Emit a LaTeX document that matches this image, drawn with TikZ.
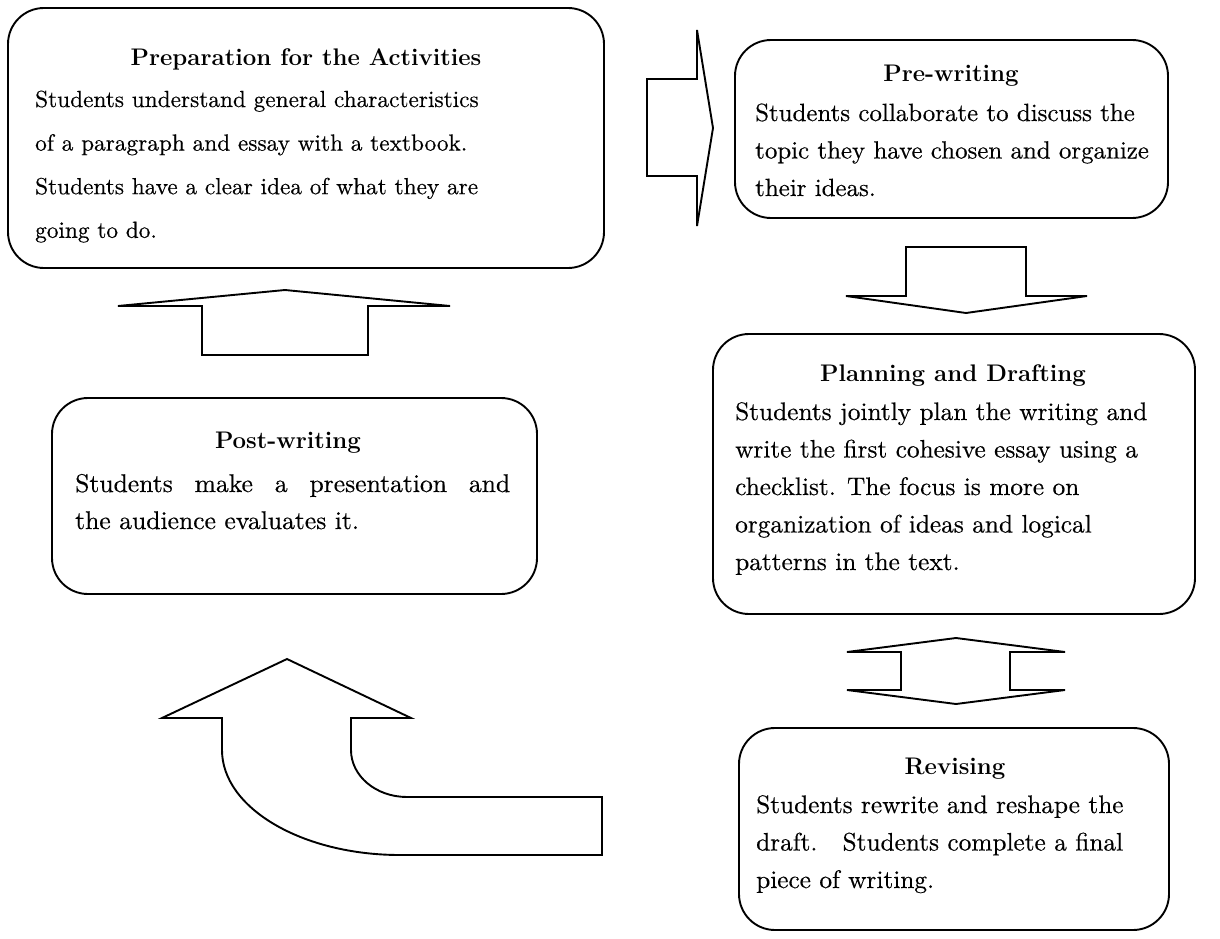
\documentclass[tikz,border=0pt]{standalone}
\usepackage{fontspec}
\newfontfamily\bodyrm{lmroman10-regular.otf}[FakeBold=0.4]
\newcommand\bodyprep{\bodyrm\fontsize{23.3}{43.6}\selectfont}
\newcommand\bodyright{\bodyrm\fontsize{25.3}{37.5}\selectfont}
\newcommand\bodypre{\bodyrm\fontsize{24.9}{37.5}\selectfont}
\newcommand\bodypost{\bodyrm\fontsize{25.6}{37}\selectfont}
\begin{document}
\begin{tikzpicture}[x=1pt,y=-1pt,
  box/.style={draw, line width=1.9pt, rounded corners=36pt, inner sep=0pt},
  ttl/.style={font=\fontsize{24}{28}\selectfont\bfseries, anchor=base, inner sep=0pt},
  body/.style={anchor=base west, inner sep=0pt, align=left},
  barrow/.style={draw, line width=1.9pt, line join=miter}]
\useasboundingbox (0,0) rectangle (1220,939);

% boxes
\node[box, minimum width=596pt, minimum height=260pt] (prep) at (306,138) {};
\node[box, minimum width=433pt, minimum height=178pt] (pre) at (951.5,129) {};
\node[box, minimum width=482pt, minimum height=280pt] (plan) at (954,474) {};
\node[box, minimum width=430pt, minimum height=202pt] (rev) at (954,829) {};
\node[box, minimum width=485pt, minimum height=196pt] (post) at (294.5,496) {};

% titles
\node[ttl] (prepH) at (306,66) {Preparation for the Activities};
\node[ttl] (preH) at (951,82) {Pre-writing};
\node[ttl] (planH) at (953,381) {Planning and Drafting};
\node[ttl] (revH) at (955,774) {Revising};
\node[ttl] (postH) at (288,448) {Post-writing};

% body lines
\node[body, font=\bodyprep] (prep1) at (35,107) {Students understand general characteristics};
\node[body, font=\bodyprep] (prep2) at (35,150.6) {of a paragraph and essay with a textbook.};
\node[body, font=\bodyprep] (prep3) at (35,194.2) {Students have a clear idea of what they are};
\node[body, font=\bodyprep] (prep4) at (35,237.8) {going to do.};

\node[body, font=\bodypre] (pre1) at (755,121) {Students collaborate to discuss the};
\node[body, font=\bodypre] (pre2) at (755,158.5) {topic they have chosen and organize};
\node[body, font=\bodypre] (pre3) at (755,196) {their ideas.};

\node[body, font=\bodyright] (plan1) at (735,420) {Students jointly plan the writing and};
\node[body, font=\bodyright] (plan2) at (735,457.5) {write the first cohesive essay using a};
\node[body, font=\bodyright] (plan3) at (735,495) {checklist. The focus is more on};
\node[body, font=\bodyright] (plan4) at (735,532.5) {organization of ideas and logical};
\node[body, font=\bodyright] (plan5) at (735,570) {patterns in the text.};

\node[body, font=\bodyright] (rev1) at (756,813) {Students rewrite and reshape the};
\node[body, font=\bodyright] (rev2) at (756,850.5) {draft.\hspace{0.55em} Students complete a final};
\node[body, font=\bodyright] (rev3) at (756,888) {piece of writing.};

\node[body, font=\bodypost] (post1) at (75,492) {\makebox[435pt][s]{Students make a presentation and}};
\node[body, font=\bodypost] (post2) at (75,529) {the audience evaluates it.};

% block arrows
\draw[barrow] (647,79) -- (697,79) -- (697,30) -- (713,128) -- (697,226) -- (697,176) -- (647,176) -- cycle;
\draw[barrow] (906,247) -- (1026,247) -- (1026,296) -- (1087,296) -- (966,313) -- (846,296) -- (906,296) -- cycle;
\draw[barrow] (956,638) -- (1065,652) -- (1010,652) -- (1010,690) -- (1065,690) -- (956,704) -- (847,690) -- (901,690) -- (901,652) -- (847,652) -- cycle;
\draw[barrow] (118,306) -- (285,290) -- (450,306) -- (368,306) -- (368,355) -- (202,355) -- (202,306) -- cycle;
\draw[barrow] (287,659) -- (411,718) -- (351,718) -- (351,750)
  .. controls (351,776) and (376,797) .. (407,797) -- (602,797) -- (602,855) -- (400,855)
  .. controls (302,855) and (222,808) .. (222,750) -- (222,718) -- (162,718) -- cycle;
\end{tikzpicture}
\end{document}
